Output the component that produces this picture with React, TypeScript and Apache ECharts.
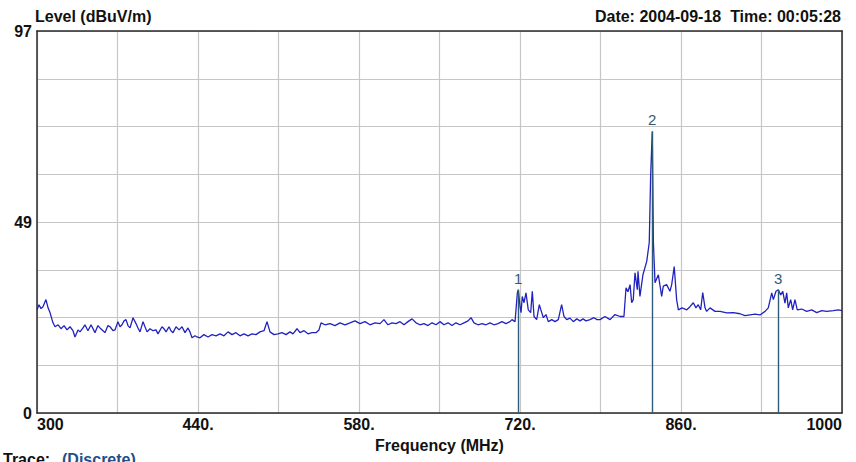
import React, { useEffect, useRef } from "react";
import * as echarts from "echarts";

// Spectrum trace: frequency (MHz) and measured level (dBuV/m)
const freqs = [
  300.0, 301.7, 303.5, 305.2, 307.8, 309.6, 311.3, 313.9, 315.7, 318.3,
  320.9, 323.5, 326.1, 328.7, 331.3, 333.0, 335.7, 337.4, 340.0, 341.7,
  344.3, 347.0, 350.4, 353.0, 354.8, 357.4, 359.1, 361.7, 363.5, 366.1,
  367.8, 370.4, 372.2, 373.9, 375.7, 377.4, 379.1, 380.9, 383.5, 386.1,
  387.8, 389.6, 392.2, 393.9, 395.7, 398.3, 400.9, 403.5, 405.2, 408.7,
  410.4, 412.2, 414.8, 416.5, 418.3, 420.9, 423.5, 426.1, 428.7, 431.3,
  433.0, 434.8, 437.4, 439.1, 441.7, 445.2, 448.7, 452.2, 455.7, 459.1,
  462.6, 466.1, 469.6, 473.0, 476.5, 480.0, 483.5, 487.0, 490.4, 493.9,
  497.4, 500.0, 502.6, 506.1, 509.6, 513.0, 516.5, 520.0, 522.6, 526.1,
  528.7, 532.2, 535.7, 539.1, 542.6, 545.2, 547.0, 550.4, 554.8, 559.1,
  563.5, 567.8, 572.2, 576.5, 580.9, 585.2, 589.6, 593.9, 598.3, 601.7,
  605.2, 608.7, 612.2, 615.7, 619.1, 622.6, 626.1, 629.6, 633.0, 636.5,
  640.0, 643.5, 647.0, 650.4, 653.9, 657.4, 660.9, 664.3, 667.8, 671.3,
  674.8, 677.4, 680.0, 683.5, 687.0, 690.4, 693.9, 697.4, 700.9, 704.3,
  707.8, 711.3, 713.0, 715.7, 717.7, 718.5, 720.0, 720.9, 722.0, 723.5,
  725.2, 727.2, 729.3, 730.7, 732.2, 734.5, 736.8, 738.9, 740.3, 742.6,
  744.6, 747.6, 750.4, 753.3, 756.2, 758.3, 760.6, 763.5, 766.3, 769.3,
  772.2, 774.8, 777.4, 780.9, 784.3, 786.9, 789.6, 793.9, 798.3, 802.6,
  807.0, 810.4, 812.2, 813.9, 815.7, 817.1, 818.5, 820.0, 822.0, 822.6,
  824.3, 826.9, 830.2, 832.4, 833.6, 835.0, 836.0, 837.4, 840.3, 843.2,
  844.6, 847.5, 850.4, 851.9, 854.1, 856.2, 857.7, 860.9, 865.0, 867.8,
  870.7, 873.0, 875.0, 877.1, 878.9, 880.9, 882.3, 885.2, 889.6, 894.0,
  899.8, 905.5, 911.3, 915.7, 920.0, 924.4, 928.7, 933.1, 935.9, 938.9,
  940.3, 942.6, 944.6, 946.7, 948.5, 950.4, 951.9, 953.3, 955.4, 957.1,
  959.1, 961.1, 965.0, 969.3, 973.7, 978.0, 982.4, 986.7, 992.5, 996.8,
  1000.0,
];

const levels = [
  26.2, 27.5, 26.5, 27.0, 28.8, 26.7, 25.5, 22.9, 21.9, 22.4,
  21.4, 22.2, 21.1, 21.9, 20.9, 19.3, 21.1, 20.6, 21.6, 22.4,
  20.9, 22.4, 20.4, 22.2, 21.6, 20.9, 20.4, 22.2, 21.9, 20.9,
  21.1, 23.2, 21.9, 22.4, 23.4, 23.7, 22.2, 21.6, 24.2, 22.7,
  21.6, 20.6, 23.2, 21.9, 20.6, 21.4, 20.9, 21.1, 20.1, 21.9,
  21.4, 20.6, 21.9, 20.9, 20.4, 21.9, 21.1, 21.9, 20.4, 21.6,
  20.6, 19.1, 19.6, 19.3, 19.1, 19.9, 19.3, 19.9, 19.6, 20.1,
  19.6, 20.6, 19.9, 20.4, 19.6, 20.1, 19.6, 20.1, 19.9, 20.6,
  20.9, 23.2, 20.6, 19.9, 20.1, 20.4, 19.9, 20.6, 20.1, 21.4,
  20.4, 20.9, 20.1, 20.4, 20.4, 21.1, 22.9, 22.4, 22.7, 22.2,
  22.9, 22.4, 22.9, 23.4, 22.7, 23.2, 22.4, 22.9, 22.7, 23.7,
  22.4, 22.9, 22.7, 23.2, 22.4, 23.2, 23.9, 22.9, 22.4, 22.7,
  22.2, 22.9, 22.4, 23.2, 22.4, 22.9, 22.2, 22.9, 22.4, 22.9,
  23.4, 24.2, 22.9, 22.4, 22.7, 22.4, 22.9, 22.4, 22.7, 23.2,
  22.7, 23.2, 23.7, 23.2, 30.5, 31.3, 27.1, 25.5, 29.6, 28.0,
  30.5, 26.2, 25.5, 30.9, 24.5, 23.7, 27.5, 25.5, 24.2, 25.0,
  23.2, 23.7, 23.2, 23.7, 27.5, 24.5, 23.7, 24.1, 23.2, 23.9,
  23.4, 23.9, 23.4, 23.7, 24.2, 23.7, 23.7, 24.5, 23.7, 25.0,
  24.5, 24.5, 31.8, 30.8, 32.6, 28.0, 28.8, 35.6, 31.3, 36.0,
  29.6, 35.1, 38.5, 43.3, 60.2, 71.5, 43.3, 33.1, 35.1, 29.6,
  32.2, 32.6, 30.9, 32.6, 37.2, 28.8, 26.2, 26.7, 26.2, 27.0,
  28.0, 26.7, 27.5, 26.2, 30.6, 26.7, 25.8, 26.7, 25.8, 25.8,
  25.4, 25.5, 25.2, 24.7, 24.9, 25.1, 24.9, 25.8, 26.7, 30.5,
  28.8, 30.9, 31.3, 30.0, 30.9, 27.9, 30.5, 26.7, 28.8, 26.2,
  28.8, 26.2, 26.4, 25.8, 26.2, 25.5, 26.0, 25.8, 26.0, 26.2,
  26.0,
];

// Peak markers
const markerNames = ["1", "2", "3"];
const markerFreqs = [718.5, 835.0, 944.6];
const markerLevels = [31.3, 71.5, 31.3];

// Axis ranges
const freqMin = 300;
const freqMax = 1000;
const freqStep = 70;
const levelMin = 0;
const levelMax = 97;
const levelStep = 97 / 8;

const FONT = '"Liberation Sans", Arial, Helvetica, sans-serif';
const TEXT = "#111111";
const FRAME = "#2a2a2a";
const GRID = "#c6c6c6";
const TRACE = "#2222c0";
const MARKER = "#2f5b7a";

export default function App() {
  const ref = useRef<HTMLDivElement>(null);

  useEffect(() => {
    if (!ref.current) return;
    const chart = echarts.init(ref.current, undefined, { renderer: "svg" });

    const frameLine = { show: true, onZero: false, lineStyle: { color: FRAME, width: 1.5 } };

    chart.setOption({
      animation: false,
      backgroundColor: "#ffffff",
      grid: { left: 37, right: 14, top: 31, bottom: 49, containLabel: false },
      xAxis: [
        {
          type: "value",
          min: freqMin,
          max: freqMax,
          interval: freqStep,
          position: "bottom",
          axisLine: frameLine,
          axisTick: { show: false },
          splitLine: { show: true, lineStyle: { color: GRID, width: 1.2 } },
          axisLabel: {
            margin: 3,
            fontFamily: FONT,
            fontWeight: "bold",
            fontSize: 16,
            color: TEXT,
            alignMinLabel: "left",
            alignMaxLabel: "right",
            formatter: (v: number) => {
              if ((Math.round(v) - freqMin) % (freqStep * 2) !== 0) return "";
              if (v === freqMin || v === freqMax) return String(Math.round(v));
              return Math.round(v) + ".";
            },
          },
          name: "Frequency (MHz)",
          nameLocation: "middle",
          nameGap: 24,
          nameTextStyle: { fontFamily: FONT, fontWeight: "bold", fontSize: 16, color: TEXT },
        },
        {
          type: "value",
          min: freqMin,
          max: freqMax,
          position: "top",
          axisLine: frameLine,
          axisTick: { show: false },
          axisLabel: { show: false },
          splitLine: { show: false },
        },
      ],
      yAxis: [
        {
          type: "value",
          min: levelMin,
          max: levelMax,
          interval: levelStep,
          position: "left",
          axisLine: frameLine,
          axisTick: { show: false },
          splitLine: { show: true, lineStyle: { color: GRID, width: 1.2 } },
          axisLabel: {
            margin: 5,
            fontFamily: FONT,
            fontWeight: "bold",
            fontSize: 16,
            color: TEXT,
            formatter: (v: number) => {
              const i = Math.round(v / levelStep);
              return i % 4 === 0 ? String(Math.round(v)) : "";
            },
          },
        },
        {
          type: "value",
          min: levelMin,
          max: levelMax,
          position: "right",
          axisLine: frameLine,
          axisTick: { show: false },
          axisLabel: { show: false },
          splitLine: { show: false },
        },
      ],
      series: [
        {
          type: "line",
          xAxisIndex: 0,
          yAxisIndex: 0,
          data: freqs.map((f, i) => [f, levels[i]]),
          symbol: "none",
          showSymbol: false,
          lineStyle: { color: TRACE, width: 1.3 },
          z: 3,
          markLine: {
            silent: true,
            symbol: ["none", "none"],
            lineStyle: { color: MARKER, width: 1.4, type: "solid" },
            label: {
              show: true,
              position: "start",
              distance: 4,
              formatter: "{b}",
              fontFamily: FONT,
              fontSize: 15,
              color: MARKER,
            },
            data: markerFreqs.map((f, i) => [
              { name: markerNames[i], coord: [f, markerLevels[i]] },
              { coord: [f, levelMin] },
            ]),
          },
        },
      ],
      graphic: [
        {
          type: "text",
          left: 35,
          top: 8,
          style: { text: "Level (dBuV/m)", font: `bold 16px ${FONT}`, fill: TEXT },
        },
        {
          type: "text",
          right: 15,
          top: 8,
          style: { text: "Date: 2004-09-18  Time: 00:05:28", font: `bold 16px ${FONT}`, fill: TEXT },
        },
        {
          type: "text",
          left: 3,
          top: 451,
          style: { text: "Trace:", font: `bold 16px ${FONT}`, fill: TEXT },
        },
        {
          type: "text",
          left: 62,
          top: 451,
          style: { text: "(Discrete)", font: `bold 16px ${FONT}`, fill: "#1f4f8a" },
        },
      ],
    });

    return () => chart.dispose();
  }, []);

  return (
    <div
      ref={ref}
      style={{ position: "fixed", left: 0, top: 0, width: 856, height: 462, background: "#fff" }}
    />
  );
}
